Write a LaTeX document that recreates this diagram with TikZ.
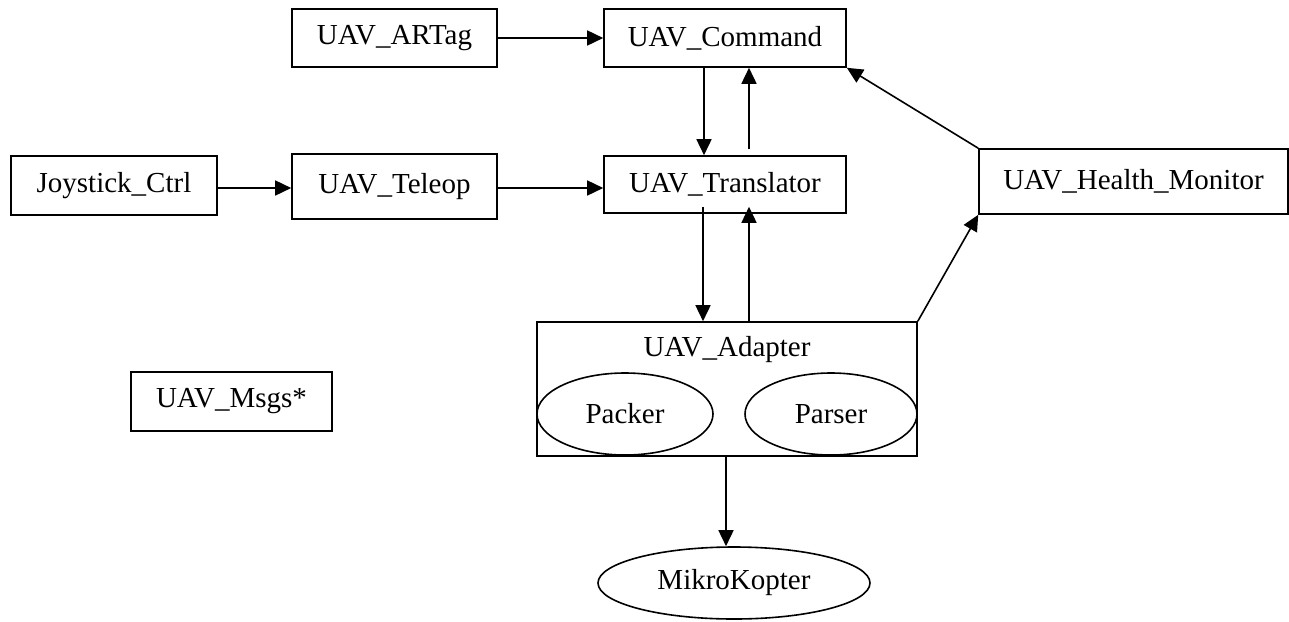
\documentclass[tikz,border=0pt]{standalone}
\usepackage{fontspec}
\setmainfont{Liberation Serif}
\usetikzlibrary{arrows.meta,shapes.geometric}
\begin{document}
\begin{tikzpicture}[x=1pt,y=-1pt,
  every node/.style={font=\fontsize{29}{35}\selectfont, inner sep=0pt},
  box/.style={draw, line width=1.6pt, rectangle},
  oval/.style={draw, line width=1.6pt, ellipse},
  arr/.style={line width=1.6pt, -{Triangle[length=16pt,width=15pt]}}]
\useasboundingbox (0,0) rectangle (1289,621);

% upper row of modules
\node[box, minimum width=205pt, minimum height=58pt] (artag) at (394.5,38) {UAV\_ARTag};
\node[box, minimum width=242pt, minimum height=58pt] (command) at (725,38) {UAV\_Command};
\node[box, minimum width=206pt, minimum height=59pt] (joy) at (114,185.5) {Joystick\_Ctrl};
\node[box, minimum width=205pt, minimum height=65pt] (teleop) at (394.5,186.5) {UAV\_Teleop};
\node[box, minimum width=242pt, minimum height=57pt] (trans) at (725,184.5) {UAV\_Translator};
\node[box, minimum width=309pt, minimum height=65pt] (health) at (1133.5,181.5) {UAV\_Health\_Monitor};

% message package
\node[box, minimum width=201pt, minimum height=59pt] (msgs) at (231.5,401.5) {UAV\_Msgs*};

% adapter with its two sub-modules
\node[box, minimum width=380pt, minimum height=134pt] (adapter) at (727,389) {};
\node (adaptertitle) at (727,350) {UAV\_Adapter};
\node[oval, minimum width=176pt, minimum height=82pt] (packer) at (625,414) {Packer};
\node[oval, minimum width=172pt, minimum height=82pt] (parser) at (831,414) {Parser};

% flight controller
\node[oval, minimum width=272pt, minimum height=72pt] (mikro) at (734,583) {MikroKopter};

% connections
\draw[arr] (artag.east) -- (command.west);
\draw[arr] (joy.east |- 0,188) -- (teleop.west |- 0,188);
\draw[arr] (teleop.east |- 0,188) -- (trans.west |- 0,188);
\draw[arr] ([xshift=-21pt]command.south) -- ([xshift=-21pt]trans.north);
\draw[arr] ([xshift=24pt,yshift=6pt]trans.north) -- ([xshift=24pt]command.south);
\draw[arr] ([xshift=-22pt,yshift=7pt]trans.south) -- ([xshift=-24pt]adapter.north);
\draw[arr] ([xshift=22pt]adapter.north) -- ([xshift=24pt,yshift=7pt]trans.south);
\draw[arr] ([xshift=-1pt]adapter.south) -- ([xshift=-8pt]mikro.north);
\draw[arr] (adapter.north east) -- (health.south west);
\draw[arr] (health.north west) -- (command.south east);
\end{tikzpicture}
\end{document}
